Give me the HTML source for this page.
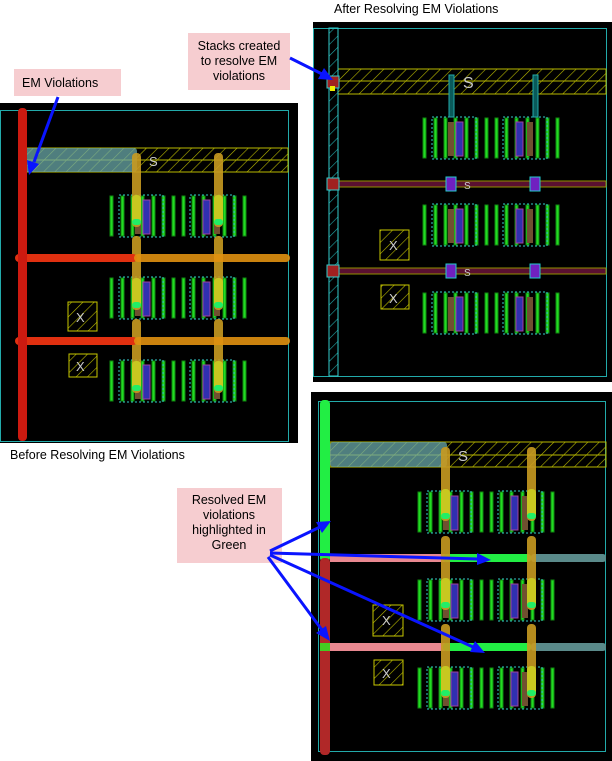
<!DOCTYPE html>
<html><head><meta charset="utf-8"><style>
html,body{margin:0;padding:0;background:#fff;}
svg{display:block;}
.lbl{font-family:"Liberation Sans",sans-serif;font-size:12.5px;fill:#000;}
.s{font-family:"Liberation Sans",sans-serif;font-size:13px;fill:#ccc;}
</style></head><body>
<svg width="612" height="761" viewBox="0 0 612 761" xmlns="http://www.w3.org/2000/svg">
<defs>
<pattern id="hy" width="8" height="8" patternUnits="userSpaceOnUse" patternTransform="rotate(45)"><line x1="0" y1="0" x2="0" y2="8" stroke="#b8b800" stroke-width="1.2"/></pattern>
<pattern id="hc" width="8" height="8" patternUnits="userSpaceOnUse" patternTransform="rotate(45)"><line x1="0" y1="0" x2="0" y2="8" stroke="#2aa" stroke-width="1.2"/></pattern>
<g id="dev">
<g fill="#22dd22" stroke="#118811" stroke-width="1">
<rect x="0" y="1" width="3" height="40"/><rect x="11" y="1" width="3" height="40"/>
<rect x="21" y="1" width="3" height="40"/><rect x="31" y="1" width="3" height="40"/>
<rect x="42" y="1" width="3" height="40"/><rect x="52" y="1" width="3" height="40"/>
<rect x="62" y="1" width="3" height="40"/><rect x="72" y="1" width="3" height="40"/>
<rect x="82" y="1" width="3" height="40"/><rect x="92" y="1" width="3" height="40"/>
<rect x="103" y="1" width="3" height="40"/><rect x="113" y="1" width="3" height="40"/>
<rect x="123" y="1" width="3" height="40"/><rect x="133" y="1" width="3" height="40"/>
</g>
<rect x="9" y="0" width="44" height="42" fill="none" stroke="#3cc" stroke-dasharray="2,2"/>
<rect x="80" y="0" width="44" height="42" fill="none" stroke="#3cc" stroke-dasharray="2,2"/>
<rect x="33" y="5" width="7" height="34" fill="#3030b0" stroke="#a040a0"/>
<rect x="93" y="5" width="7" height="34" fill="#3030b0" stroke="#a040a0"/>
<rect x="25" y="5" width="6" height="34" fill="#705030"/>
<rect x="104" y="5" width="6" height="34" fill="#705030"/>
</g>
<g id="pill">
<rect x="-4" y="0" width="9" height="74" rx="4" fill="#c89a20" opacity="0.9"/>
<rect x="-4" y="42" width="9" height="30" rx="4" fill="#c8c820"/>
<rect x="-4" y="66" width="9" height="6" rx="3" fill="#22ee66"/>
</g>
</defs>

<!-- Panel 1 -->
<rect x="0" y="103" width="298" height="340" fill="#000"/>
<rect x="0.5" y="110.5" width="288" height="331" fill="none" stroke="#2aa"/>
<rect x="20" y="148" width="268" height="24" fill="url(#hy)" stroke="#b8b800"/>
<line x1="20" y1="160" x2="288" y2="160" stroke="#b8b800"/>
<rect x="20" y="148" width="117" height="24" rx="3" fill="#6aa8a8" opacity="0.75"/>
<text class="s" x="149" y="166">S</text>
<use href="#dev" x="110" y="195"/><use href="#dev" x="110" y="277"/><use href="#dev" x="110" y="360"/>
<use href="#pill" x="136" y="153"/><use href="#pill" x="218" y="153"/>
<use href="#pill" x="136" y="236"/><use href="#pill" x="218" y="236"/>
<use href="#pill" x="136" y="319"/><use href="#pill" x="218" y="319"/>
<rect x="15" y="254" width="122" height="8" rx="4" fill="#e03010"/>
<rect x="134" y="254" width="156" height="8" rx="4" fill="#e09010" opacity="0.9"/>
<rect x="15" y="337" width="122" height="8" rx="4" fill="#e03010"/>
<rect x="134" y="337" width="156" height="8" rx="4" fill="#e09010" opacity="0.9"/>
<rect x="18" y="108" width="9" height="333" rx="4" fill="#cc1a10"/>
<rect x="68" y="302" width="29" height="29" fill="url(#hy)" stroke="#c8c800"/>
<text class="s" x="76" y="322">X</text>
<rect x="69" y="354" width="28" height="23" fill="url(#hy)" stroke="#c8c800"/>
<text class="s" x="76" y="371">X</text>

<!-- Panel 2 -->
<rect x="313" y="22" width="299" height="360" fill="#000"/>
<rect x="313.5" y="28.5" width="293" height="348" fill="none" stroke="#2aa"/>
<rect x="338" y="69" width="268" height="25" fill="url(#hy)" stroke="#b8b800"/>
<line x1="338" y1="81" x2="606" y2="81" stroke="#b8b800"/>
<text class="s" x="463" y="88" style="font-size:16px">S</text>
<use href="#dev" x="423" y="117"/><use href="#dev" x="423" y="204"/><use href="#dev" x="423" y="292"/>
<rect x="449" y="75" width="5" height="42" fill="#0a5a5a" stroke="#2aa"/>
<rect x="533" y="75" width="5" height="42" fill="#0a5a5a" stroke="#2aa"/>
<rect x="328" y="181" width="278" height="6" fill="#5a1030" stroke="#909000" stroke-width="1"/>
<rect x="328" y="268" width="278" height="6" fill="#5a1030" stroke="#909000" stroke-width="1"/>
<text class="s" x="464" y="189" style="font-size:10px">S</text>
<text class="s" x="464" y="276" style="font-size:10px">S</text>
<rect x="446" y="177" width="10" height="14" fill="#7020c0" stroke="#2cc"/>
<rect x="530" y="177" width="10" height="14" fill="#7020c0" stroke="#2cc"/>
<rect x="446" y="264" width="10" height="14" fill="#7020c0" stroke="#2cc"/>
<rect x="530" y="264" width="10" height="14" fill="#7020c0" stroke="#2cc"/>
<rect x="329" y="28" width="9" height="348" fill="url(#hc)" stroke="#3cc"/>
<rect x="327" y="76" width="12" height="12" fill="#a02020" stroke="#3cc"/>
<rect x="330" y="86" width="5" height="5" fill="#ee0"/>
<rect x="327" y="178" width="12" height="12" fill="#a02020" stroke="#3cc"/>
<rect x="327" y="265" width="12" height="12" fill="#a02020" stroke="#3cc"/>
<rect x="380" y="230" width="29" height="30" fill="url(#hy)" stroke="#c8c800"/>
<text class="s" x="389" y="250">X</text>
<rect x="381" y="285" width="28" height="24" fill="url(#hy)" stroke="#c8c800"/>
<text class="s" x="389" y="303">X</text>

<!-- Panel 3 -->
<rect x="311" y="392" width="301" height="369" fill="#000"/>
<rect x="318.5" y="401.5" width="287" height="350" fill="none" stroke="#2aa"/>
<rect x="330" y="442" width="276" height="25" fill="url(#hy)" stroke="#b8b800"/>
<line x1="330" y1="455" x2="606" y2="455" stroke="#b8b800"/>
<rect x="330" y="442" width="117" height="25" rx="3" fill="#6aa8a8" opacity="0.75"/>
<text class="s" x="458" y="461" style="font-size:15px">S</text>
<use href="#dev" x="418" y="491"/><use href="#dev" x="418" y="579"/><use href="#dev" x="418" y="667"/>
<rect x="330" y="554" width="115" height="8" fill="#e88890"/>
<rect x="443" y="554" width="88" height="8" rx="3" fill="#22ee44"/>
<rect x="531" y="554" width="75" height="8" rx="3" fill="#5a8a8a"/>
<rect x="330" y="643" width="115" height="8" fill="#e88890"/>
<rect x="443" y="643" width="88" height="8" rx="3" fill="#22ee44"/>
<rect x="531" y="643" width="75" height="8" rx="3" fill="#5a8a8a"/>
<use href="#pill" x="445" y="447"/><use href="#pill" x="531" y="447"/>
<use href="#pill" x="445" y="536"/><use href="#pill" x="531" y="536"/>
<use href="#pill" x="445" y="624"/><use href="#pill" x="531" y="624"/>
<rect x="320" y="400" width="10" height="162" rx="4" fill="#22ee44"/>
<rect x="320" y="558" width="10" height="197" rx="4" fill="#b02828"/>
<rect x="320" y="643" width="10" height="8" fill="#44cc22"/>
<rect x="373" y="605" width="30" height="31" fill="url(#hy)" stroke="#c8c800"/>
<text class="s" x="382" y="625">X</text>
<rect x="374" y="660" width="29" height="25" fill="url(#hy)" stroke="#c8c800"/>
<text class="s" x="382" y="678">X</text>

<!-- Labels -->
<text class="lbl" x="334" y="13">After Resolving EM Violations</text>
<text class="lbl" x="10" y="459">Before Resolving EM Violations</text>
<rect x="14" y="69" width="107" height="27" fill="#f6cdd0"/>
<text class="lbl" x="22" y="87">EM Violations</text>
<rect x="188" y="33" width="102" height="57" fill="#f6cdd0"/>
<text class="lbl" x="239" y="50" text-anchor="middle">Stacks created</text>
<text class="lbl" x="239" y="65" text-anchor="middle">to resolve EM</text>
<text class="lbl" x="239" y="80" text-anchor="middle">violations</text>
<rect x="177" y="488" width="105" height="75" fill="#f6cdd0"/>
<text class="lbl" x="229" y="504" text-anchor="middle">Resolved EM</text>
<text class="lbl" x="229" y="519" text-anchor="middle">violations</text>
<text class="lbl" x="229" y="534" text-anchor="middle">highlighted in</text>
<text class="lbl" x="229" y="549" text-anchor="middle">Green</text>

<!-- Arrows -->
<g stroke="#0a14ff" stroke-width="3" fill="#0a14ff">
<line x1="58" y1="97" x2="34" y2="162"/><polygon points="29,175 27,160 39,164" stroke="none"/>
<line x1="290" y1="58" x2="322" y2="74"/><polygon points="333,80 318,79 324,68" stroke="none"/>
<line x1="270" y1="551" x2="320" y2="527"/><polygon points="331,521 322,533 316,522" stroke="none"/>
<line x1="270" y1="553" x2="478" y2="559"/><polygon points="491,560 477,565 477,553" stroke="none"/>
<line x1="270" y1="555" x2="473" y2="647"/><polygon points="485,653 470,652 475,641" stroke="none"/>
<line x1="268" y1="557" x2="322" y2="630"/><polygon points="330,641 316,633 326,626" stroke="none"/>
</g>
</svg>
</body></html>
